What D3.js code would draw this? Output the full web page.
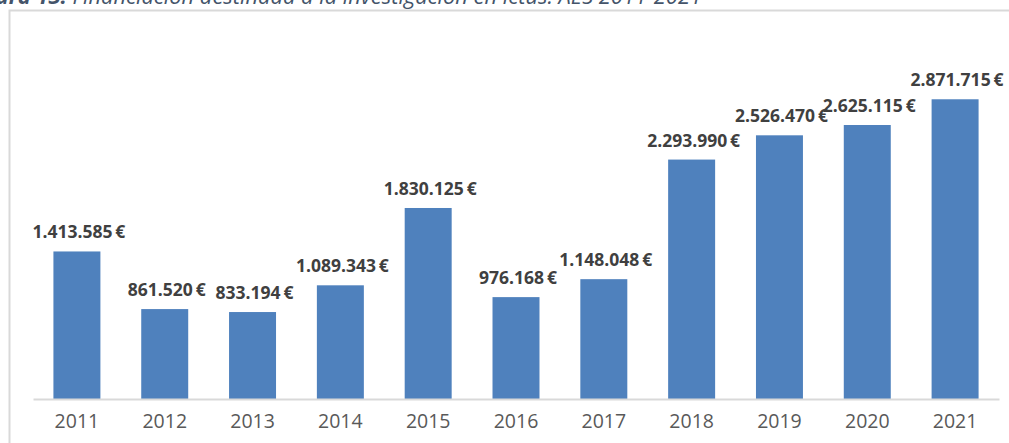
<!DOCTYPE html>
<html>
<head>
<meta charset="utf-8">
<script src="https://cdn.jsdelivr.net/npm/d3@7"></script>
<style>
  body { margin: 0; background: #fff; }
  svg { display: block; }
</style>
</head>
<body>
<svg width="1009" height="443"></svg>
<script>
var years = ["2011", "2012", "2013", "2014", "2015", "2016", "2017", "2018", "2019", "2020", "2021"];
var amounts = [1413585, 861520, 833194, 1089343, 1830125, 976168, 1148048, 2293990, 2526470, 2625115, 2871715];
var titleBold = "Figura 13: ";
var titleText = "Financiación destinada a la investigación en ictus. AES 2011-2021";

var svg = d3.select("svg"),
	width = +svg.attr("width"),
	height = +svg.attr("height");

var data = years.map(function(y, i) { return {year: y, value: amounts[i]}; });

// chart frame (only top/left edges visible in the crop)
svg.append("rect")
	.attr("x", 9.5).attr("y", 10.5)
	.attr("width", 1100).attr("height", 600)
	.attr("fill", "none")
	.attr("stroke", "#d9d9d9")
	.attr("stroke-width", 2);

// caption, cut off at the top of the picture
var title = svg.append("text")
	.attr("x", 702).attr("y", 4)
	.attr("text-anchor", "end")
	.style("font-family", "'Open Sans', sans-serif")
	.style("font-style", "italic")
	.style("font-size", "20px")
	.attr("fill", "#44546a");
title.append("tspan").style("font-weight", "bold").text(titleBold);
var rest = title.append("tspan").text(titleText);
var w = rest.node().getComputedTextLength();
title.style("font-size", (20 * 630 / w) + "px");

var x = d3.scaleBand()
	.domain(years)
	.range([33, 999])
	.paddingInner(0.465)
	.paddingOuter(0.2325);

var y = d3.scaleLinear()
	.domain([0, 3500000])
	.range([399, 33.7]);

var fmt = d3.formatLocale({decimal: ",", thousands: ".", grouping: [3], currency: ["", "\u2009€"]}).format("$,.0f");

svg.append("g").selectAll("rect")
	.data(data)
	.enter().append("rect")
	.attr("x", function(d) { return x(d.year); })
	.attr("y", function(d) { return y(d.value); })
	.attr("width", x.bandwidth())
	.attr("height", function(d) { return y(0) - y(d.value); })
	.attr("fill", "#4f81bd");

svg.append("g").selectAll("text")
	.data(data)
	.enter().append("text")
	.attr("x", function(d) { return x(d.year) + x.bandwidth() / 2 + 2; })
	.attr("y", function(d) { return y(d.value) - 13; })
	.attr("text-anchor", "middle")
	.style("font-family", "'Open Sans', sans-serif")
	.style("font-weight", "bold")
	.style("font-size", "17.5px")
	.attr("fill", "#404040")
	.text(function(d) { return fmt(d.value); });

var axis = svg.append("g")
	.attr("transform", "translate(0,399)")
	.call(d3.axisBottom(x).tickSize(0).tickPadding(15));
axis.select(".domain").attr("stroke", "#d9d9d9").attr("stroke-width", 2);
axis.selectAll("text")
	.style("font-family", "'Open Sans', sans-serif")
	.style("font-size", "19.5px")
	.attr("fill", "#595959");
</script>
</body>
</html>
